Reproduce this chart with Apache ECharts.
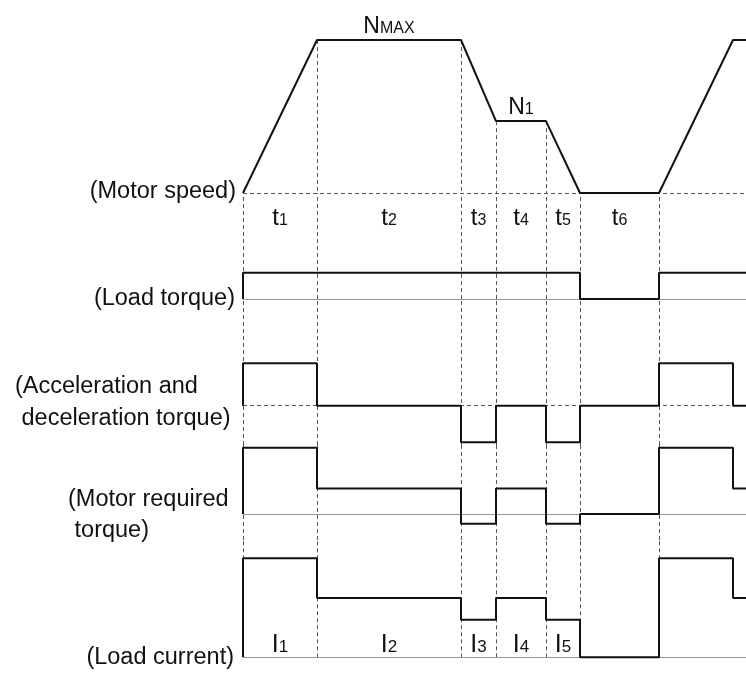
<!DOCTYPE html>
<html>
<head>
<meta charset="utf-8">
<script src="https://cdn.jsdelivr.net/npm/echarts@6/dist/echarts.min.js"></script>
<style>
html,body{margin:0;padding:0;background:#fff;}
#chart{width:746px;height:673px;}
</style>
</head>
<body>
<div id="chart"></div>
<script>
// ---------- DATA ----------
// time instants (arbitrary time units) where the operating pattern changes
const stepTime = [0, 74, 218, 253, 303, 337, 416, 490, 503];
// boundaries of the periods t1..t6 (dashed guides)
const periodEdges = [0, 74, 218, 253, 303, 337, 416];
const periodNames = ['t1', 't2', 't3', 't4', 't5', 't6'];
const currentNames = ['I1', 'I2', 'I3', 'I4', 'I5'];

// motor speed (% of NMAX) at each instant (linear ramps)
const speedValue = [0, 100, 100, 47, 47, 0, 0, 100, 100];
// values held from each instant until the next one
const loadTorque  = [1, 1, 1, 1, 1, 0, 1, 1, 1];
const accelTorque = [1.6, 0, -1.38, 0, -1.38, 0, 1.6, 0, 0];
const motorTorque = [2.6, 1, -0.38, 1, -0.38, 0, 2.6, 1, 1];
const loadCurrent = [5, 3, 1.9, 3, 1.9, 0, 5, 3, 3];

const speedMarks = [{name: 'NMAX', from: 74, to: 218, value: 100}, {name: 'N1', from: 253, to: 303, value: 47}];

const rowLabels = ['(Motor speed)', '(Load torque)', '(Acceleration and\n deceleration torque)', '(Motor required\n torque)', '(Load current)'];

// ---------- LAYOUT ----------
const FONT = '"Liberation Sans", Arial, Helvetica, sans-serif';
const INK = '#111';
const DASH = '#555';
const BASE = '#999';
const LEFT = 243;
const XMAX = stepTime[stepTime.length - 1];
// each row: pixel top, pixel height, axis min/max (places baseline)
const rows = [
  {top: 40,  height: 153,   min: 0,      max: 100},
  {top: 193, height: 106,   min: 0,      max: 106 / 26.3},
  {top: 299, height: 146,   min: -39.3 / 26.5, max: 106.7 / 26.5},
  {top: 445, height: 95,    min: -26 / 25.5,   max: 69 / 25.5},
  {top: 540, height: 117.3, min: 0,      max: 117.3 / 19.8}
];

function stepData(vals) {
  const d = [[stepTime[0], 0]];
  for (let i = 0; i < stepTime.length; i++) d.push([stepTime[i], vals[i]]);
  return d;
}
function sub(name) {
  return '{m|' + name.charAt(0) + '}{s|' + name.slice(1) + '}';
}
const richMain = (big, small) => ({
  m: {fontSize: big, fontFamily: FONT, color: INK, verticalAlign: 'bottom', opacity: 1},
  s: {fontSize: small, fontFamily: FONT, color: INK, verticalAlign: 'bottom', padding: [0, 0, 1, 0], opacity: 1}
});
const labelScatter = (axis, data, label) => ({
  type: 'scatter', xAxisIndex: axis, yAxisIndex: axis, symbolSize: 0, z: 6, silent: true,
  itemStyle: {opacity: 1, color: INK},
  data: data,
  label: Object.assign({show: true, color: INK, opacity: 1, formatter: p => sub(p.name)}, label)
});

const grids = rows.map(r => ({left: LEFT, right: 0, top: r.top, height: r.height, containLabel: false, outerBoundsMode: 'none'}));
const xAxes = rows.map((r, i) => ({type: 'value', gridIndex: i, min: 0, max: XMAX, show: false}));
const yAxes = rows.map((r, i) => ({type: 'value', gridIndex: i, min: r.min, max: r.max, show: false}));

const dashStyle = {color: DASH, width: 1, type: [4, 3]};
const baseStyle = {color: BASE, width: 1, type: 'solid'};
const mlCommon = {symbol: ['none', 'none'], silent: true, animation: false, label: {show: false}};

const series = [];
// guides in speed row: from speed curve down to 0
const speedGuides = periodEdges.map(t => {
  const v = speedValue[stepTime.indexOf(t)];
  return [{coord: [t, v]}, {coord: [t, 0]}];
});
series.push({
  type: 'line', xAxisIndex: 0, yAxisIndex: 0, data: [], z: 1, silent: true,
  markLine: Object.assign({}, mlCommon, {lineStyle: dashStyle, data: speedGuides.concat([{yAxis: 0}])})
});
for (let i = 1; i < rows.length; i++) {
  const base = i === 2 ? {yAxis: 0, lineStyle: dashStyle} : {yAxis: 0, lineStyle: baseStyle};
  series.push({
    type: 'line', xAxisIndex: i, yAxisIndex: i, data: [], z: 1, silent: true,
    markLine: Object.assign({}, mlCommon, {lineStyle: dashStyle, data: periodEdges.map(t => ({xAxis: t})).concat([base])})
  });
}
// speed curve
series.push({
  type: 'line', xAxisIndex: 0, yAxisIndex: 0, z: 5, symbol: 'none', clip: false,
  lineStyle: {color: INK, width: 2}, data: stepTime.map((t, i) => [t, speedValue[i]])
});
// step signals
[loadTorque, accelTorque, motorTorque, loadCurrent].forEach((vals, k) => {
  series.push({
    type: 'line', xAxisIndex: k + 1, yAxisIndex: k + 1, z: 5, symbol: 'none', clip: false, step: 'end',
    lineStyle: {color: INK, width: 2}, data: stepData(vals)
  });
});
// NMAX / N1 labels
series.push(labelScatter(0,
  speedMarks.map(m => ({value: [(m.from + m.to) / 2, m.value], name: m.name})),
  {position: 'top', distance: 2, rich: richMain(23, 16)}));
// period labels t1..t6
series.push(labelScatter(0,
  periodNames.map((n, i) => ({value: [(periodEdges[i] + (periodEdges[i + 1] !== undefined ? periodEdges[i + 1] : stepTime[7])) / 2, 0], name: n})),
  {position: 'bottom', distance: 13, rich: richMain(24, 16)}));
// current labels I1..I5
series.push(labelScatter(4,
  currentNames.map((n, i) => ({value: [(periodEdges[i] + periodEdges[i + 1]) / 2, 0], name: n})),
  {position: 'top', distance: 0, rich: richMain(25, 17)}));

const labelFont = '23.5px ' + FONT;
const graphic = [
  {type: 'text', x: 236, y: 192, style: {text: rowLabels[0], font: labelFont, fill: INK, textAlign: 'right', textVerticalAlign: 'middle'}},
  {type: 'text', x: 235, y: 299, style: {text: rowLabels[1], font: labelFont, fill: INK, textAlign: 'right', textVerticalAlign: 'middle'}},
  {type: 'text', x: 15, y: 403, style: {text: rowLabels[2], font: labelFont, fill: INK, textAlign: 'left', textVerticalAlign: 'middle', lineHeight: 32}},
  {type: 'text', x: 68, y: 515, style: {text: rowLabels[3], font: labelFont, fill: INK, textAlign: 'left', textVerticalAlign: 'middle', lineHeight: 31}},
  {type: 'text', x: 234, y: 658, style: {text: rowLabels[4], font: labelFont, fill: INK, textAlign: 'right', textVerticalAlign: 'middle'}}
];

const chart = echarts.init(document.getElementById('chart'), null, {renderer: 'canvas'});
chart.setOption({
  animation: false,
  backgroundColor: '#fff',
  grid: grids, xAxis: xAxes, yAxis: yAxes,
  series: series,
  graphic: graphic
});
</script>
</body>
</html>
